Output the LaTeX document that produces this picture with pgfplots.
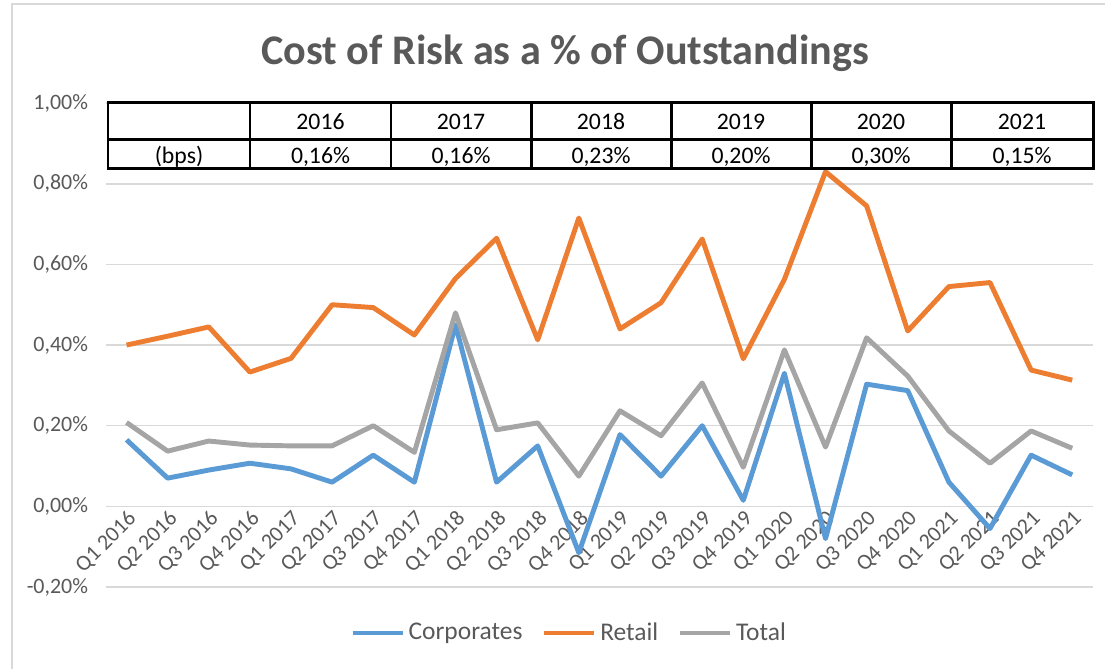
\documentclass[border=0pt]{standalone}
\usepackage{pgfplots}
\pgfplotsset{compat=1.18}
\usepackage{fontspec}
\setmainfont{Carlito}
\definecolor{cblue}{HTML}{5B9BD5}
\definecolor{corange}{HTML}{ED7D31}
\definecolor{cgray}{HTML}{A5A5A5}
\definecolor{txtgray}{HTML}{595959}
\definecolor{gridgray}{HTML}{D9D9D9}
\begin{document}
\begin{tikzpicture}[x=0.02cm,y=0.02cm]
\useasboundingbox (0,0) rectangle (1105,669);
\draw[gridgray, line width=1.2pt] (12,0) -- (12,665) -- (1105,665);
\node[anchor=base, text=txtgray, font=\bfseries\fontsize{24}{28}\selectfont] at (565,604) {Cost of Risk as a \% of Outstandings};
\begin{axis}[
  at={(2.12cm,1.64cm)}, anchor=south west,
  scale only axis, width=19.74cm, height=9.68cm,
  xmin=-0.5, xmax=23.5, ymin=-0.2, ymax=1.0,
  axis x line=middle, axis y line=left,
  x axis line style={-, draw=gridgray, line width=0.85pt},
  y axis line style={draw=none},
  major tick length=0pt,
  hide obscured x ticks=false, hide obscured y ticks=false,
  ymajorgrids, grid style={gridgray, line width=0.85pt},
  xtick={0,...,23},
  xticklabels={Q1 2016,Q2 2016,Q3 2016,Q4 2016,Q1 2017,Q2 2017,Q3 2017,Q4 2017,Q1 2018,Q2 2018,Q3 2018,Q4 2018,Q1 2019,Q2 2019,Q3 2019,Q4 2019,Q1 2020,Q2 2020,Q3 2020,Q4 2020,Q1 2021,Q2 2021,Q3 2021,Q4 2021},
  xticklabel style={rotate=45, anchor=north east, font=\fontsize{12.5}{14}\selectfont, text=txtgray, inner sep=1pt},
  ytick={-0.2,0,0.2,0.4,0.6,0.8,1.0},
  yticklabels={{-0,20\%},{0,00\%},{0,20\%},{0,40\%},{0,60\%},{0,80\%},{1,00\%}},
  yticklabel style={font=\fontsize{12.5}{14}\selectfont, text=txtgray, inner sep=0pt, xshift=-10pt},
  legend style={at={(0.470,-0.095)}, anchor=center, draw=none, fill=none, legend columns=-1, font=\fontsize{14.5}{16}\selectfont, text=txtgray, /tikz/every even column/.append style={column sep=9pt}},
  legend image code/.code={\draw[#1] (0cm,0cm) -- (1cm,0cm);},
  every axis plot/.append style={line width=2.8pt, line join=round, no markers},
  clip=false,
]
\addplot[cblue] coordinates {(0,0.165) (1,0.070) (2,0.090) (3,0.107) (4,0.093) (5,0.060) (6,0.127) (7,0.060) (8,0.450) (9,0.060) (10,0.150) (11,-0.115) (12,0.178) (13,0.075) (14,0.200) (15,0.015) (16,0.330) (17,-0.080) (18,0.303) (19,0.287) (20,0.060) (21,-0.055) (22,0.127) (23,0.078)};
\addlegendentry{Corporates}
\addplot[corange] coordinates {(0,0.400) (1,0.422) (2,0.445) (3,0.333) (4,0.367) (5,0.500) (6,0.493) (7,0.425) (8,0.565) (9,0.665) (10,0.413) (11,0.715) (12,0.440) (13,0.505) (14,0.663) (15,0.366) (16,0.563) (17,0.830) (18,0.745) (19,0.435) (20,0.545) (21,0.555) (22,0.338) (23,0.313)};
\addlegendentry{Retail}
\addplot[cgray] coordinates {(0,0.208) (1,0.137) (2,0.162) (3,0.152) (4,0.150) (5,0.150) (6,0.200) (7,0.134) (8,0.480) (9,0.190) (10,0.207) (11,0.075) (12,0.237) (13,0.175) (14,0.306) (15,0.097) (16,0.388) (17,0.147) (18,0.418) (19,0.323) (20,0.187) (21,0.107) (22,0.187) (23,0.144)};
\addlegendentry{Total}
\end{axis}
\fill[white] (108,500) rectangle (1093,566);
\draw[line width=1.7pt] (108,500) rectangle (1093,566);
\draw[line width=1.7pt] (108,529) -- (1093,529);
\foreach \x in {250,391,531,671,811,951} \draw[line width=1.7pt] (\x,500) -- (\x,566);
\begin{scope}[every node/.style={anchor=base, font=\fontsize{13.5}{16}\selectfont}]
\node at (320.5,539) {2016};
\node at (461,539) {2017};
\node at (601,539) {2018};
\node at (741,539) {2019};
\node at (881,539) {2020};
\node at (1022,539) {2021};
\node at (179,505) {(bps)};
\node at (320.5,505) {0,16\%};
\node at (461,505) {0,16\%};
\node at (601,505) {0,23\%};
\node at (741,505) {0,20\%};
\node at (881,505) {0,30\%};
\node at (1022,505) {0,15\%};
\end{scope}
\end{tikzpicture}
\end{document}
